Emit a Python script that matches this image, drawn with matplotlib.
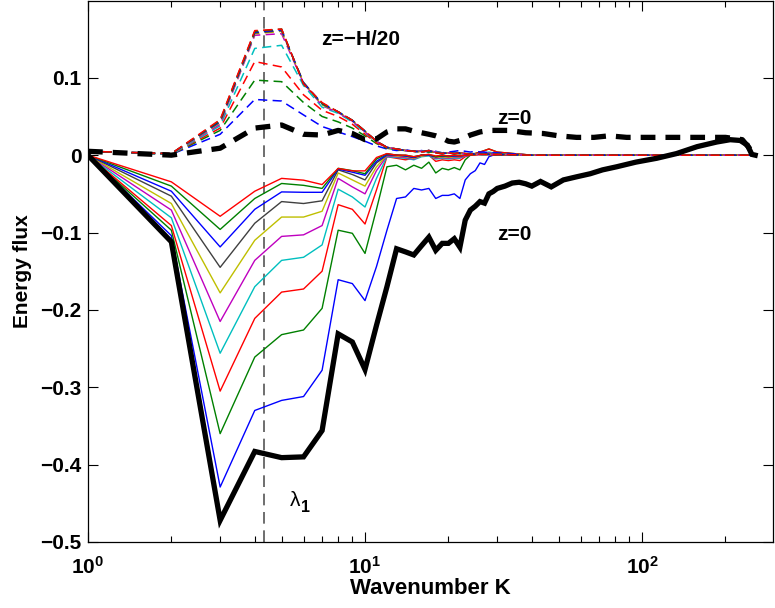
import numpy as np
import matplotlib
matplotlib.use("Agg")
import matplotlib.pyplot as plt
from matplotlib.ticker import FixedLocator, FixedFormatter, LogLocator, NullFormatter

plt.rcParams['font.family'] = ['Liberation Sans', 'DejaVu Sans']
plt.rcParams['mathtext.fontset'] = 'custom'
plt.rcParams['mathtext.rm'] = 'Liberation Sans:bold'
plt.rcParams['mathtext.bf'] = 'Liberation Sans:bold'

# wavenumbers K = 1..30 (integer grid), plus a sparse far tail
K = [1, 2, 3, 4, 5, 6, 7, 8, 9, 10, 11, 12, 13, 14, 15,
     16, 17, 18, 19, 20, 21, 22, 23, 24, 25, 26, 27, 28, 29, 30]
K_tail = [40, 60, 100, 160, 256]
tail_zero = [0.0, 0.0, 0.0, 0.0, 0.0]

# solid lines (depth levels), ordered from the one next to z=0 upwards
solid_1 = [0, -0.104, -0.429, -0.330, -0.317, -0.312, -0.278, -0.161, -0.166, -0.188,
           -0.144, -0.097, -0.056, -0.054, -0.043, -0.045, -0.043, -0.056, -0.052, -0.052,
           -0.050, -0.056, -0.032, -0.024, -0.020, -0.010, -0.012, -0.002, 0.000, 0.002]
solid_2 = [0, -0.097, -0.360, -0.261, -0.232, -0.226, -0.198, -0.097, -0.101, -0.127,
           -0.070, -0.015, -0.013, -0.019, -0.013, -0.017, -0.009, -0.023, -0.017, -0.019,
           -0.016, -0.019, -0.006, 0.000, 0.002, 0.004, 0.006, 0.008, 0.006, 0.004]
solid_3 = [0, -0.091, -0.305, -0.211, -0.177, -0.173, -0.150, -0.064, -0.070, -0.089,
           -0.045, -0.002, -0.004, -0.006, -0.004, 0.000, 0.000, -0.008, -0.006, -0.007,
           -0.006, -0.007, -0.002, 0.000, 0.002, 0.004, 0.006, 0.008, 0.006, 0.004]
solid_4 = [0, -0.081, -0.256, -0.170, -0.136, -0.132, -0.116, -0.044, -0.054, -0.067,
           -0.030, -0.002, -0.003, -0.004, -0.006, -0.002, -0.001, -0.005, -0.004, -0.005,
           -0.004, -0.004, -0.001, 0.000, 0.001, 0.002, 0.003, 0.004, 0.003, 0.002]
solid_5 = [0, -0.071, -0.215, -0.136, -0.105, -0.103, -0.091, -0.030, -0.041, -0.050,
           -0.020, -0.001, -0.002, -0.003, -0.005, -0.001, 0.000, -0.004, -0.003, -0.004,
           -0.003, -0.003, -0.001, 0.000, 0.001, 0.002, 0.002, 0.003, 0.002, 0.001]
solid_6 = [0, -0.0625, -0.178, -0.110, -0.080, -0.080, -0.0725, -0.023, -0.032, -0.040,
           -0.015, 0.000, -0.001, -0.002, -0.004, -0.001, 0.000, -0.003, -0.002, -0.003,
           -0.002, -0.002, 0.000, 0.000, 0.001, 0.001, 0.002, 0.002, 0.001, 0.001]
solid_7 = [0, -0.053, -0.145, -0.088, -0.060, -0.0625, -0.059, -0.019, -0.025, -0.032,
           -0.010, 0.000, 0.000, -0.001, -0.003, 0.000, 0.000, -0.002, -0.001, -0.002,
           -0.001, -0.001, 0.000, 0.000, 0.001, 0.001, 0.001, 0.002, 0.001, 0.001]
solid_8 = [0, -0.0466, -0.1186, -0.070, -0.0475, -0.048, -0.048, -0.018, -0.022, -0.026,
           -0.008, 0.001, 0.000, -0.001, -0.003, 0.000, 0.000, -0.002, -0.001, -0.001,
           -0.001, -0.001, 0.000, 0.000, 0.001, 0.001, 0.001, 0.001, 0.001, 0.000]
solid_9 = [0, -0.040, -0.096, -0.056, -0.0366, -0.039, -0.043, -0.017, -0.020, -0.024,
           -0.005, 0.002, 0.000, 0.000, -0.002, 0.000, 0.001, -0.002, -0.001, -0.001,
           0.000, -0.001, 0.000, 0.000, 0.001, 0.001, 0.001, 0.001, 0.000, 0.000]
solid_10 = [0, -0.0345, -0.079, -0.0466, -0.030, -0.0323, -0.038, -0.0172, -0.0203, -0.0203,
            -0.003, 0.002, 0.000, 0.000, -0.002, 0.000, 0.001, -0.001, 0.000, -0.001,
            0.000, -0.001, 0.000, 0.000, 0.000, 0.001, 0.001, 0.001, 0.000, 0.000]

# dashed lines, same order
dash_1 = [0.005, 0.001, 0.027, 0.072, 0.070, 0.052, 0.037, 0.030, 0.024, 0.018,
          0.012, 0.008, 0.006, 0.007, 0.005, 0.006, 0.004, 0.005, 0.003, 0.004,
          0.005, 0.006, 0.005, 0.004, 0.005, 0.004, 0.004, 0.003, 0.003, 0.003]
dash_2 = [0.005, 0.001, 0.032, 0.097, 0.095, 0.068, 0.050, 0.043, 0.035, 0.025,
          0.015, 0.009, 0.007, 0.006, 0.005, 0.005, 0.004, 0.004, 0.003, 0.003,
          0.003, 0.003, 0.002, 0.002, 0.002, 0.002, 0.002, 0.001, 0.001, 0.001]
dash_3 = [0.005, 0.001, 0.035, 0.121, 0.114, 0.078, 0.058, 0.050, 0.040, 0.027,
          0.016, 0.010, 0.008, 0.006, 0.005, 0.005, 0.005, 0.004, 0.003, 0.003,
          0.003, 0.003, 0.002, 0.002, 0.002, 0.002, 0.001, 0.001, 0.001, 0.001]
dash_4 = [0.005, 0.001, 0.038, 0.138, 0.142, 0.090, 0.062, 0.054, 0.043, 0.029,
          0.018, 0.010, 0.008, 0.006, 0.005, 0.005, 0.005, 0.004, 0.003, 0.003,
          0.003, 0.002, 0.002, 0.002, 0.002, 0.001, 0.001, 0.001, 0.001, 0.001]
dash_5 = [0.005, 0.002, 0.040, 0.155, 0.157, 0.093, 0.064, 0.055, 0.044, 0.030,
          0.018, 0.010, 0.008, 0.006, 0.005, 0.005, 0.006, 0.004, 0.003, 0.003,
          0.003, 0.002, 0.002, 0.002, 0.001, 0.001, 0.001, 0.001, 0.001, 0.001]
dash_6 = [0.005, 0.002, 0.042, 0.157, 0.160, 0.094, 0.065, 0.056, 0.045, 0.031,
          0.018, 0.010, 0.008, 0.006, 0.005, 0.004, 0.006, 0.003, 0.002, 0.003,
          0.002, 0.002, 0.002, 0.001, 0.001, 0.001, 0.001, 0.001, 0.001, 0.001]
dash_7 = [0.005, 0.002, 0.043, 0.158, 0.161, 0.094, 0.066, 0.056, 0.045, 0.031,
          0.018, 0.010, 0.008, 0.006, 0.005, 0.004, 0.006, 0.003, 0.002, 0.003,
          0.002, 0.002, 0.002, 0.001, 0.001, 0.001, 0.001, 0.001, 0.001, 0.001]
dash_8 = [0.005, 0.002, 0.044, 0.159, 0.162, 0.093, 0.067, 0.056, 0.045, 0.031,
          0.018, 0.010, 0.008, 0.006, 0.005, 0.004, 0.006, 0.003, 0.002, 0.003,
          0.002, 0.003, 0.002, 0.001, 0.002, 0.001, 0.001, 0.001, 0.001, 0.001]
dash_9 = [0.005, 0.002, 0.045, 0.160, 0.163, 0.092, 0.067, 0.056, 0.045, 0.031,
          0.018, 0.010, 0.008, 0.006, 0.005, 0.004, 0.006, 0.003, 0.002, 0.003,
          0.002, 0.003, 0.002, 0.001, 0.002, 0.001, 0.001, 0.001, 0.001, 0.001]
dash_10 = [0.005, 0.002, 0.046, 0.161, 0.163, 0.092, 0.068, 0.056, 0.045, 0.031,
           0.018, 0.010, 0.008, 0.006, 0.005, 0.004, 0.006, 0.003, 0.002, 0.003,
           0.002, 0.003, 0.002, 0.001, 0.002, 0.001, 0.001, 0.001, 0.001, 0.001]

# z=0 curves
z0_solid = [0, -0.112, -0.472, -0.383, -0.391, -0.390, -0.356, -0.231, -0.2415, -0.277,
            -0.220, -0.170, -0.121, -0.125, -0.129, -0.117, -0.106, -0.123, -0.114, -0.114,
            -0.108, -0.119, -0.084, -0.071, -0.066, -0.060, -0.062, -0.050, -0.047, -0.043]
z0_solid_K_tail = [32, 34, 36, 38, 40, 43, 47, 52, 58, 65, 72, 81, 95, 113,
                   133, 158, 186, 208, 226, 240, 249, 256]
z0_solid_tail = [-0.040, -0.036, -0.035, -0.037, -0.040, -0.034, -0.041, -0.032, -0.028,
                 -0.024, -0.019, -0.015, -0.009, -0.004, 0.002, 0.011, 0.017, 0.020,
                 0.019, 0.013, 0.001, 0.0]
z0_dash = [0.005, 0.000, 0.009, 0.035, 0.039, 0.027, 0.026, 0.032, 0.028, 0.020,
           0.021, 0.030, 0.034, 0.034, 0.031, 0.029, 0.027, 0.025, 0.022, 0.018,
           0.017, 0.019, 0.023, 0.026, 0.028, 0.030, 0.031, 0.032, 0.032, 0.032]
z0_dash_K_tail = [33, 38, 44, 50, 58, 67, 76, 88, 100, 130, 160, 200, 230, 256]
z0_dash_tail = [0.032, 0.029, 0.028, 0.025, 0.023, 0.023, 0.025, 0.023, 0.023,
                0.023, 0.023, 0.023, 0.020, 0.000]

lambda_1 = 4.32

y_ticks = [-0.5, -0.4, -0.3, -0.2, -0.1, 0, 0.1]
y_ticklabels = ['\u22120.5', '\u22120.4', '\u22120.3', '\u22120.2', '\u22120.1', '0', '0.1']
x_ticks = [1, 10, 100]
x_ticklabels = [r'$\mathrm{10^{0}}$', r'$\mathrm{10^{1}}$', r'$\mathrm{10^{2}}$']

# MATLAB's old default colour order
line_colors = ['#0000ff', '#008000', '#ff0000', '#00bfbf', '#bf00bf',
               '#bfbf00', '#404040', '#0000ff', '#008000', '#ff0000']

solid_lines = [solid_1, solid_2, solid_3, solid_4, solid_5,
               solid_6, solid_7, solid_8, solid_9, solid_10]
dash_lines = [dash_1, dash_2, dash_3, dash_4, dash_5,
              dash_6, dash_7, dash_8, dash_9, dash_10]

fig = plt.figure(figsize=(7.75, 6.08), dpi=100)
ax = fig.add_axes([0.1135, 0.1086, 0.8845, 0.8894])
ax.set_xscale('log')

k_full = K + K_tail
for vals, col in zip(solid_lines, line_colors):
    ax.plot(k_full, vals + tail_zero, color=col, lw=1.0, zorder=2)
for vals, col in zip(dash_lines, line_colors):
    ax.plot(k_full, vals + tail_zero, color=col, lw=1.1, dashes=(6, 3.5), zorder=3)

ax.plot(K + z0_dash_K_tail, z0_dash + z0_dash_tail, color='black', lw=3.8,
        dashes=(2.8, 1.9), zorder=4)
ax.plot(K + z0_solid_K_tail, z0_solid + z0_solid_tail, color='black', lw=3.8,
        solid_joinstyle='miter', zorder=5)

ax.axvline(lambda_1, color='#555555', lw=1.2, dashes=(7, 4), zorder=1)

ax.text(6.94, 0.149, 'z=\u2212H/20', fontsize=15, fontweight='bold', va='center')
ax.text(30, 0.047, 'z=0', fontsize=15, fontweight='bold', va='center')
ax.text(30, -0.103, 'z=0', fontsize=15, fontweight='bold', va='center')
ax.text(5.6, -0.447, '\u03bb', fontsize=15, ha='center', va='center')
ax.text(6.12, -0.456, '1', fontsize=11.5, fontweight='bold', ha='center', va='center')

ax.set_xlim(1, 298)
ax.set_ylim(-0.5, 0.199)
ax.xaxis.set_major_locator(FixedLocator(x_ticks))
ax.xaxis.set_major_formatter(FixedFormatter(x_ticklabels))
ax.xaxis.set_minor_locator(LogLocator(base=10, subs=np.arange(2, 10)))
ax.xaxis.set_minor_formatter(NullFormatter())
ax.yaxis.set_major_locator(FixedLocator(y_ticks))
ax.yaxis.set_major_formatter(FixedFormatter(y_ticklabels))

ax.tick_params(which='both', direction='in', top=True, right=True, width=0.8)
ax.tick_params(which='major', length=7, labelsize=15)
ax.tick_params(which='minor', length=4)
ax.tick_params(axis='y', pad=4.5)
ax.tick_params(axis='x', pad=10)
for lab in ax.get_yticklabels():
    lab.set_fontweight('bold')
for sp in ax.spines.values():
    sp.set_linewidth(0.9)

ax.set_xlabel('Wavenumber K', fontsize=16, fontweight='bold', labelpad=0)
ax.set_ylabel('Energy flux', fontsize=15, fontweight='bold')
ax.xaxis.set_label_coords(0.5, -0.066)
ax.yaxis.set_label_coords(-0.082, 0.5)

fig.savefig('out.png', dpi=100)
